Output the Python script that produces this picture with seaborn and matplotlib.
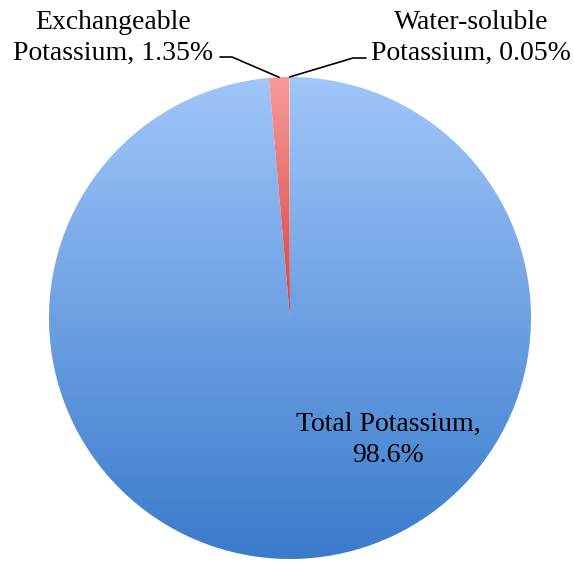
import numpy as np
import matplotlib
matplotlib.use("Agg")
import matplotlib.pyplot as plt
import seaborn as sns
from matplotlib.colors import to_rgb

# ---- data ----
categories = ["Total Potassium", "Exchangeable Potassium", "Water-soluble Potassium"]
shares = [98.6, 1.35, 0.05]
label_texts = ["Total Potassium,\n98.6%", "Exchangeable\nPotassium, 1.35%", "Water-soluble\nPotassium, 0.05%"]

# gradient colours (top, bottom) per slice
grad_top = ["#A0C6FA", "#F79C9A", "#E6D6A8"]
grad_bot = ["#3A7BCB", "#D7403E", "#C9A860"]

sns.set_theme(style="white")
plt.rcParams["font.family"] = ["Liberation Serif", "DejaVu Serif"]

W, H = 574, 561
fig = plt.figure(figsize=(W / 100, H / 100), dpi=100)
ax = fig.add_axes([0, 0, 1, 1])

cx, cy, r = 290, H - 318, 241
wedges, _ = ax.pie(shares, startangle=90, counterclock=False, center=(cx, cy),
                   radius=r, frame=True, wedgeprops=dict(linewidth=0))

for w, ct, cb in zip(wedges, grad_top, grad_bot):
    ext = w.get_path().get_extents()
    x0, y0, x1, y1 = ext.x0, ext.y0, ext.x1, ext.y1
    n = 256
    t = np.linspace(0, 1, n)[:, None]
    top = np.array(to_rgb(ct)); bot = np.array(to_rgb(cb))
    grad = bot * (1 - t) + top * t  # origin lower: row 0 = bottom
    img = ax.imshow(grad[:, None, :], extent=[x0, x1, y0, y1], origin="lower",
                    aspect="auto", interpolation="bilinear", zorder=1)
    img.set_clip_path(w)
    w.set_facecolor("none")

ax.set_xlim(0, W)
ax.set_ylim(0, H)
ax.set_aspect("auto")
ax.axis("off")

fs = 20
ls = 1.3
# Total label inside (baseline of last line)
ax.text(388, H - 462, label_texts[0], ha="center", va="baseline", fontsize=fs,
        color="black", multialignment="center", linespacing=ls, zorder=3)

# outside labels with leaders
def anchor(w):
    th = np.deg2rad((w.theta1 + w.theta2) / 2)
    return cx + r * np.cos(th), cy + r * np.sin(th)

ax.text(113, H - 60, label_texts[1], ha="center", va="baseline", fontsize=fs,
        color="black", multialignment="center", linespacing=ls, zorder=3)
ax.text(471, H - 60, label_texts[2], ha="center", va="baseline", fontsize=fs,
        color="black", multialignment="center", linespacing=ls, zorder=3)

ax1, ay1 = anchor(wedges[1])
ax.plot([220, 232, ax1], [H - 57, H - 57, ay1], color="black", lw=1.2, zorder=3)
ax2, ay2 = anchor(wedges[2])
ax.plot([ax2, 353, 366], [ay2, H - 58, H - 58], color="black", lw=1.2, zorder=3)

fig.savefig("out.png", dpi=100, facecolor="white")
